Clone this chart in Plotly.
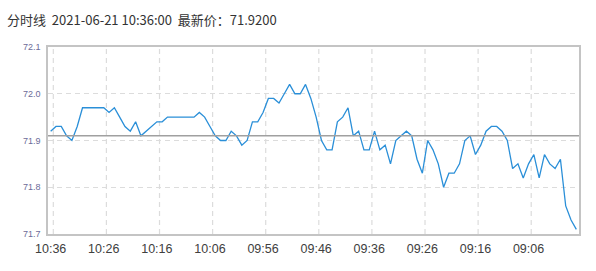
import plotly.graph_objects as go

TITLE = "分时线  2021-06-21 10:36:00  最新价：71.9200"
PREV_CLOSE = 71.91

PRICES = [
    71.92, 71.93, 71.93, 71.91, 71.90, 71.93, 71.97, 71.97, 71.97, 71.97,
    71.97, 71.96, 71.97, 71.95, 71.93, 71.92, 71.94, 71.91, 71.92, 71.93,
    71.94, 71.94, 71.95, 71.95, 71.95, 71.95, 71.95, 71.95, 71.96, 71.95,
    71.93, 71.91, 71.90, 71.90, 71.92, 71.91, 71.89, 71.90, 71.94, 71.94,
    71.96, 71.99, 71.99, 71.98, 72.00, 72.02, 72.00, 72.00, 72.02, 71.99,
    71.95, 71.90, 71.88, 71.88, 71.94, 71.95, 71.97, 71.91, 71.92, 71.88,
    71.88, 71.92, 71.88, 71.89, 71.85, 71.90, 71.91, 71.92, 71.91, 71.86,
    71.83, 71.90, 71.88, 71.85, 71.80, 71.83, 71.83, 71.85, 71.90, 71.91,
    71.87, 71.89, 71.92, 71.93, 71.93, 71.92, 71.90, 71.84, 71.85, 71.82,
    71.85, 71.87, 71.82, 71.87, 71.85, 71.84, 71.86, 71.76, 71.73, 71.71,
]
TICK_IDX = [0, 10, 20, 30, 40, 50, 60, 70, 80, 90]
TICK_TEXT = ["10:36", "10:26", "10:16", "10:06", "09:56",
             "09:46", "09:36", "09:26", "09:16", "09:06"]
Y_TICKS = [71.7, 71.8, 71.9, 72.0, 72.1]

idx = list(range(len(PRICES)))

fig = go.Figure()
fig.add_trace(go.Scatter(
    x=idx, y=PRICES, mode="lines",
    line=dict(color="#2a8fd8", width=1.3),
    hoverinfo="skip", showlegend=False,
))

shapes = []
for t in TICK_IDX:
    shapes.append(dict(
        type="line", xref="x", yref="paper", x0=t + 0.5, x1=t + 0.5, y0=0, y1=1,
        line=dict(color="#dcdcdc", width=1.2, dash="5px,4px"), layer="below",
    ))
shapes.append(dict(
    type="line", xref="paper", yref="y", x0=0, x1=1, y0=PREV_CLOSE, y1=PREV_CLOSE,
    line=dict(color="#a0a0a0", width=1.5), layer="above",
))

fig.update_layout(
    width=596, height=271,
    margin=dict(l=48, r=17, t=47, b=37),
    paper_bgcolor="white", plot_bgcolor="white",
    shapes=shapes,
    title=dict(
        text=TITLE, xref="container", yref="container",
        x=7 / 596, xanchor="left", y=1 - 20 / 271, yanchor="middle",
        font=dict(family="Noto Sans CJK SC, Arial, sans-serif", size=13, color="#333333"),
    ),
    xaxis=dict(
        range=[-0.5, len(PRICES) - 0.5],
        tickmode="array", tickvals=TICK_IDX, ticktext=TICK_TEXT,
        showgrid=False, zeroline=False,
        showline=True, linecolor="#c4c4c4", linewidth=1.5, mirror=True,
        ticks="", ticklabelstandoff=2,
        tickfont=dict(family="Liberation Sans, Arial, sans-serif", size=12.5, color="#404040"),
    ),
    yaxis=dict(
        range=[71.7, 72.1],
        tickmode="array", tickvals=Y_TICKS,
        ticktext=[f"{v:.1f}" for v in Y_TICKS],
        showgrid=True, gridcolor="#dcdcdc", gridwidth=1.2, griddash="5px,4px",
        zeroline=False,
        showline=True, linecolor="#c4c4c4", linewidth=1.5, mirror=True,
        ticks="", ticklabelstandoff=4,
        tickfont=dict(family="Liberation Sans, Arial, sans-serif", size=9, color="#6b6b99"),
    ),
)

fig.write_html("out.html")
